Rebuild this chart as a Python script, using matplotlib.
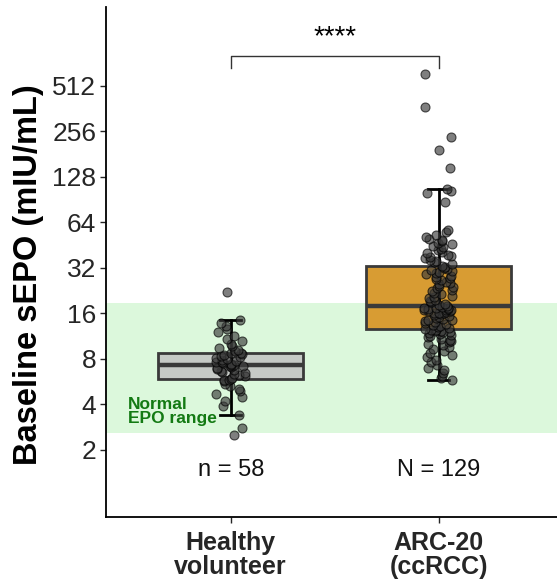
import numpy as np
import matplotlib
matplotlib.use("Agg")
import matplotlib.pyplot as plt
from matplotlib import cbook

plt.rcParams['font.family'] = ['Liberation Sans', 'DejaVu Sans']

# ---------------- data ----------------
categories = ["Healthy\nvolunteer", "ARC-20\n(ccRCC)"]
count_labels = ["n = 58", "N = 129"]

healthy = [2.5, 2.8, 3.4, 3.9, 4.2, 4.5, 4.7, 4.9, 5.1, 5.3, 5.5, 5.7, 5.8, 5.85,
           5.9, 5.95, 6.2, 6.3, 6.4, 6.5, 6.6, 6.7, 6.8, 6.9, 7.0, 7.1, 7.15, 7.2,
           7.25, 7.3, 7.4, 7.5, 7.6, 7.7, 7.8, 7.9, 8.0, 8.1, 8.2, 8.4, 8.5, 8.6,
           8.7, 8.8, 9.0, 9.2, 9.5, 9.8, 10.1, 10.5, 10.9, 11.4, 12.0, 12.6, 13.2,
           13.8, 14.5, 22.2]

arc20 = [5.8, 6.0, 6.2, 6.5, 6.8, 7.0, 7.3, 7.6, 7.9, 8.2, 8.5, 8.8, 9.0, 9.3,
         9.6, 9.9, 10.1, 10.3, 10.5, 10.7, 10.9, 11.1, 11.3, 11.5, 11.7, 11.9,
         12.0, 12.1, 12.2, 12.3, 12.4, 12.5,
         12.6, 12.8, 13.0, 13.2, 13.4, 13.6, 13.8, 14.0, 14.2, 14.4, 14.6, 14.8,
         15.0, 15.2, 15.4, 15.6, 15.8, 16.0, 16.1, 16.2, 16.4, 16.5, 16.6, 16.8,
         16.9, 17.0, 17.1, 17.2, 17.3, 17.4, 17.5, 17.6,
         17.8, 18.2, 18.6, 19.0, 19.4, 19.8, 20.2, 20.6, 21.0, 21.5, 22.0, 22.5,
         23.0, 23.5, 24.0, 24.5, 25.0, 25.5, 26.0, 26.5, 27.0, 27.5, 28.0, 28.5,
         29.0, 29.5, 30.0, 30.5, 31.0, 31.5, 32.0, 32.4,
         33, 34, 35, 35.5, 36, 37, 38, 38.5, 39, 40, 41, 42, 43, 44, 45, 46, 47,
         48, 49, 50, 51, 53, 55, 57, 87, 100, 103, 107, 147, 193, 236, 372, 613]

normal_range = [2.6, 18.8]
yticks = [2, 4, 8, 16, 32, 64, 128, 256, 512]
significance = "****"

box_colors = ["#C6CAC6", "#D89C33"]

# ---------------- figure ----------------
fig = plt.figure(figsize=(5.57, 5.85), dpi=100)
ax = fig.add_axes([106/557, 1-517/585, 1-106/557, (517-7)/585])
ax.set_yscale('log', base=2)
ax.set_ylim(2**-0.4725, 2**10.736)
ax.set_xlim(0.4, 2.57)

positions = [1, 2]
groups = [healthy, arc20]

# normal range band
ax.axhspan(normal_range[0], normal_range[1], color="#DCF8DC", zorder=0, lw=0)
ax.text(0.505, 2**2.16, "Normal\nEPO range", color="#137A13", fontsize=12.5,
        fontweight='bold', ha='left', va='top', linespacing=0.88, zorder=1)

# boxplot stats computed on log scale
stats = []
for g in groups:
    s = cbook.boxplot_stats(np.log2(g), whis=1.5)[0]
    for k in ['med', 'q1', 'q3', 'whislo', 'whishi', 'mean']:
        s[k] = 2 ** s[k]
    s['fliers'] = []
    stats.append(s)

ax.bxp(stats, positions=positions, widths=0.7, patch_artist=True,
       showfliers=False, showcaps=False,
       boxprops=dict(edgecolor="#3a3a3a", linewidth=2),
       medianprops=dict(color="#3a3a3a", linewidth=3.2),
       whiskerprops=dict(linewidth=0),
       zorder=2)
for patch, c in zip(ax.patches[-2:], box_colors):
    patch.set_facecolor(c)

# error-bar whiskers drawn on top
for p, s in zip(positions, stats):
    ax.plot([p, p], [s['whislo'], s['whishi']], color='black', lw=2, zorder=3)
    for v in (s['whislo'], s['whishi']):
        ax.plot([p - 0.05, p + 0.05], [v, v], color='black', lw=2, zorder=3)

# jittered points
rng = np.random.default_rng(7)
for p, g in zip(positions, groups):
    xj = p + rng.uniform(-0.07, 0.07, len(g))
    ax.scatter(xj, g, s=42, facecolor="#3a3a3a", edgecolor="black",
               linewidth=0.8, alpha=0.65, zorder=4)

# count labels
for p, lab in zip(positions, count_labels):
    ax.text(p, 2**0.56, lab, ha='center', va='center', fontsize=17,
            color='#111111')

# significance bracket
y_top = 2**9.66
y_tip = 2**9.40
ax.plot([1, 1, 2, 2], [y_tip, y_top, y_top, y_tip], color="#333333", lw=1)
ax.text(1.5, 2**9.78, significance, ha='center', va='bottom', fontsize=20,
        color='black')

# axes styling
ax.set_yticks(yticks)
ax.set_yticklabels([str(t) for t in yticks])
ax.yaxis.set_minor_locator(matplotlib.ticker.NullLocator())
ax.set_xticks(positions)
ax.set_xticklabels(categories, fontweight='bold', fontsize=18, color='#262626',
                   linespacing=1.0)
ax.tick_params(axis='y', labelsize=19, colors='#262626', length=4, width=1,
               pad=3)
ax.tick_params(axis='x', length=4, width=1, pad=6, colors='#262626')
for sp in ['top', 'right']:
    ax.spines[sp].set_visible(False)
for sp in ['left', 'bottom']:
    ax.spines[sp].set_linewidth(1.3)
    ax.spines[sp].set_color('black')
ax.set_ylabel("Baseline sEPO (mIU/mL)", fontweight='bold', fontsize=23.5,
              color='black')
ax.yaxis.set_label_coords(-0.137, (517-275)/510)

fig.savefig("out.png", dpi=100)
